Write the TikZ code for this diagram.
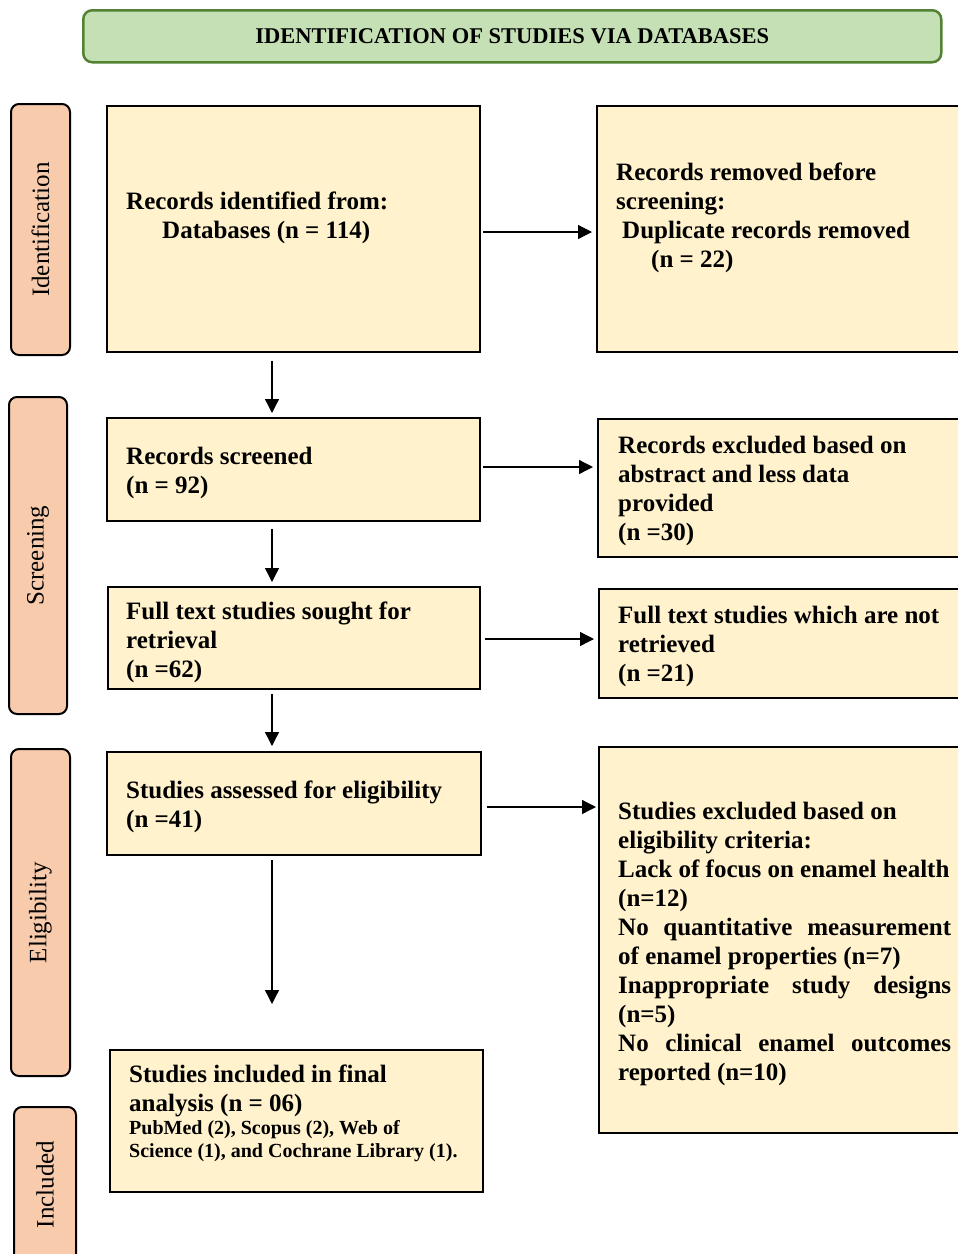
\documentclass[tikz,border=0pt]{standalone}
\usepackage{fontspec}
\setmainfont{Liberation Serif}
\usetikzlibrary{arrows.meta,calc}
\definecolor{bannerfill}{HTML}{C5E0B4}
\definecolor{bannerdraw}{HTML}{548235}
\definecolor{phasefill}{HTML}{F8CBAD}
\definecolor{boxfill}{HTML}{FFF2CC}
\begin{document}
\begin{tikzpicture}[x=1pt,y=-1pt,
  box/.style={draw=black, line width=2pt, fill=boxfill, inner sep=0pt, anchor=north west},
  txt/.style={anchor=north west, inner sep=0pt, align=left, font=\bfseries\fontsize{25}{29}\selectfont},
  smalltxt/.style={anchor=north west, inner sep=0pt, align=left, font=\bfseries\fontsize{20}{23}\selectfont},
  phase/.style={draw=black, line width=2pt, fill=phasefill, rounded corners=8pt, rotate=90, inner sep=0pt, font=\fontsize{25}{29}\selectfont},
  arr/.style={line width=1.3pt, -{Triangle[length=14pt,width=14pt]}},
]
\clip (0,0) rectangle (958,1254);

% banner
\node[draw=bannerdraw, line width=2.5pt, fill=bannerfill, rounded corners=9pt,
      minimum width=858pt, minimum height=52pt, anchor=north west, inner sep=0pt,
      font=\bfseries\fontsize{22.5}{27}\selectfont] (banner) at (82,9)
      {IDENTIFICATION OF STUDIES VIA DATABASES};

% phase labels
\node[phase, minimum width=251pt, minimum height=59pt] (p1) at (40.5,229.5) {Identification};
\node[phase, minimum width=317pt, minimum height=58pt] (p2) at (38,555.5) {Screening};
\node[phase, minimum width=327pt, minimum height=59pt] (p3) at (40.5,912.5) {Eligibility};
\node[phase, minimum width=155pt, minimum height=62pt] (p4) at (45,1184.5) {Included};

% boxes
\node[box, minimum width=373pt, minimum height=246pt] (b1) at (106,105) {};
\node[box, minimum width=370pt, minimum height=246pt] (r1) at (596,105) {};
\node[box, minimum width=373pt, minimum height=103pt] (b2) at (106,417) {};
\node[box, minimum width=370pt, minimum height=138pt] (r2) at (597,418) {};
\node[box, minimum width=372pt, minimum height=102pt] (b3) at (107,586) {};
\node[box, minimum width=370pt, minimum height=109pt] (r3) at (598,588) {};
\node[box, minimum width=374pt, minimum height=103pt] (b4) at (106,751) {};
\node[box, minimum width=370pt, minimum height=386pt] (r4) at (598,746) {};
\node[box, minimum width=373pt, minimum height=142pt] (b5) at (109,1049) {};

% texts
\node[txt] (t1) at (126,188.7) {\strut Records identified from:\\\hspace*{36pt}Databases (n = 114)};
\node[txt] (tr1) at (616,159.7) {\strut Records removed before\\screening:\\\hspace*{6pt}Duplicate records removed\\\hspace*{35pt}(n = 22)};
\node[txt] (t2) at (126,443.7) {\strut Records screened\\(n = 92)};
\node[txt] (tr2) at (618,432.7) {\strut Records excluded based on\\abstract and less data\\provided\\(n =30)};
\node[txt] (t3) at (126,598.7) {\strut Full text studies sought for\\retrieval\\(n =62)};
\node[txt] (tr3) at (618,602.7) {\strut Full text studies which are not\\retrieved\\(n =21)};
\node[txt] (t4) at (126,777.7) {\strut Studies assessed for eligibility\\(n =41)};
\node[txt] (tr4) at (618,798.7) {\strut Studies excluded based on\\eligibility criteria:\\Lack of focus on enamel health\\(n=12)\\\makebox[333pt][s]{No quantitative measurement}\\of enamel properties (n=7)\\\makebox[333pt][s]{Inappropriate study designs}\\(n=5)\\\makebox[333pt][s]{No clinical enamel outcomes}\\reported (n=10)};
\node[txt] (t5) at (129,1061.7) {\strut Studies included in final\\analysis (n = 06)};
\node[smalltxt] (t5s) at (129,1118.4) {\strut PubMed (2), Scopus (2), Web of\\Science (1), and Cochrane Library (1).};

% connectors
\coordinate (cx) at (272,0);
\coordinate (end4) at (272,1004);
\draw[arr, shorten <=2pt, shorten >=4pt] ([yshift=-3pt]b1.east) -- ([yshift=-3pt]b1.east -| r1.west);
\draw[arr, shorten <=2pt, shorten >=4pt] ([yshift=2.5pt]b2.east) -- ([yshift=2.5pt]b2.east -| r2.west);
\draw[arr, shorten <=4pt, shorten >=4pt] ([yshift=-1pt]b3.east) -- ([yshift=-1pt]b3.east -| r3.west);
\draw[arr, shorten <=5pt, shorten >=2pt] ([yshift=-3.5pt]b4.east) -- ([yshift=-3.5pt]b4.east -| r4.west);
\draw[arr, shorten <=8pt, shorten >=4pt] (b1.south -| cx) -- (b2.north -| cx);
\draw[arr, shorten <=7pt, shorten >=4pt] (b2.south -| cx) -- (b3.north -| cx);
\draw[arr, shorten <=4pt, shorten >=5pt] (b3.south -| cx) -- (b4.north -| cx);
\draw[arr, shorten <=4pt] (b4.south -| cx) -- (end4);
\end{tikzpicture}
\end{document}
